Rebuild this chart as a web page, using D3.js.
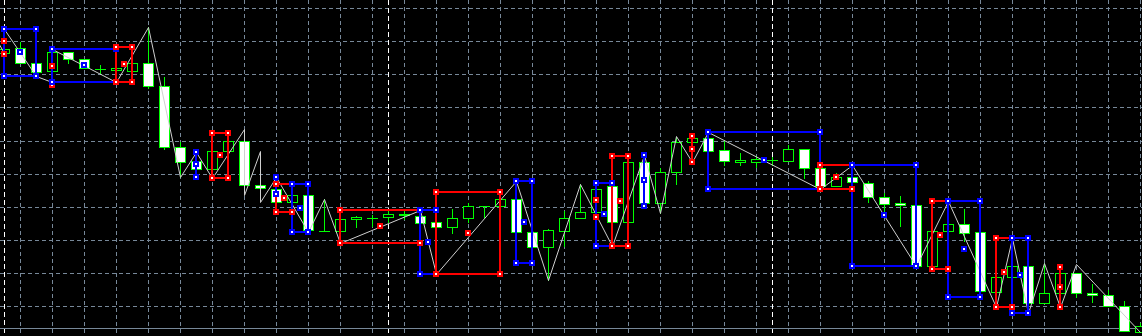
<!DOCTYPE html>
<html><head><meta charset="utf-8">
<script src="https://cdn.jsdelivr.net/npm/d3@7"></script>
<style>html,body{margin:0;padding:0;background:#000;overflow:hidden}</style>
</head><body><svg id="c" width="1142" height="336"></svg>
<script>
// ---- data (prices) ----
const opens = [1.2947,1.2952,1.2937,1.2929,1.2948,1.2941,1.2931,1.2930,1.2929,1.2937,
1.2914,1.2853,1.2839,1.2831,1.2849,1.2859,1.2815,1.2811,1.2798,1.2805,
1.2769,1.2769,1.2781,1.2782,1.2783,1.2785,1.2784,1.2778,1.2773,1.2782,
1.2794,1.2794,1.2801,1.2768,1.2753,1.2769,1.2782,1.2788,1.2814,1.2778,
1.2838,1.2797,1.2828,1.2858,1.2862,1.2850,1.2838,1.2838,1.2840,1.2839,
1.2851,1.2832,1.2814,1.2823,1.2817,1.2803,1.2797,1.2795,1.2734,1.2769,
1.2776,1.2768,1.2708,1.2723,1.2734,1.2697,1.2707,1.2727,1.2707,1.2705,
1.2694,1.2668];
const highs = [1.2953,1.2958,1.2937,1.2950,1.2948,1.2941,1.2935,1.2932,1.2937,1.2973,
1.2923,1.2858,1.2848,1.2849,1.2859,1.2859,1.2815,1.2811,1.2805,1.2805,
1.2801,1.2781,1.2784,1.2785,1.2789,1.2789,1.2784,1.2778,1.2791,1.2797,
1.2794,1.2801,1.2801,1.2768,1.2771,1.2789,1.2816,1.2811,1.2814,1.2838,
1.2845,1.2832,1.2863,1.2864,1.2868,1.2859,1.2847,1.2844,1.2843,1.2855,
1.2851,1.2835,1.2827,1.2835,1.2819,1.2807,1.2804,1.2795,1.2769,1.2776,
1.2791,1.2768,1.2723,1.2734,1.2734,1.2737,1.2727,1.2727,1.2716,1.2710,
1.2699,1.2677];
const lows = [1.2945,1.2937,1.2928,1.2929,1.2937,1.2932,1.2927,1.2930,1.2929,1.2912,
1.2851,1.2823,1.2830,1.2831,1.2849,1.2814,1.2812,1.2798,1.2798,1.2770,
1.2769,1.2769,1.2773,1.2774,1.2778,1.2781,1.2777,1.2773,1.2767,1.2778,
1.2783,1.2794,1.2768,1.2753,1.2720,1.2754,1.2782,1.2788,1.2778,1.2778,
1.2797,1.2787,1.2816,1.2838,1.2849,1.2835,1.2835,1.2833,1.2835,1.2839,
1.2822,1.2811,1.2814,1.2818,1.2798,1.2787,1.2774,1.2734,1.2731,1.2769,
1.2759,1.2709,1.2708,1.2723,1.2697,1.2697,1.2707,1.2703,1.2698,1.2694,
1.2669,1.2668];
const closes = [1.2951,1.2937,1.2928,1.2948,1.2941,1.2932,1.2931,1.2932,1.2937,1.2914,
1.2853,1.2838,1.2831,1.2849,1.2859,1.2815,1.2812,1.2798,1.2805,1.2770,
1.2769,1.2781,1.2783,1.2782,1.2786,1.2786,1.2777,1.2773,1.2782,1.2794,
1.2794,1.2801,1.2768,1.2753,1.2770,1.2782,1.2788,1.2811,1.2778,1.2838,
1.2797,1.2828,1.2858,1.2862,1.2849,1.2839,1.2840,1.2841,1.2840,1.2851,
1.2832,1.2814,1.2823,1.2818,1.2803,1.2796,1.2795,1.2734,1.2769,1.2776,
1.2767,1.2709,1.2723,1.2734,1.2697,1.2707,1.2727,1.2707,1.2705,1.2694,
1.2669,1.2674];

// zigzag (bar index, price)
const zzIdx = [-1,0,0,2,3,3,7,9,11,12,13,15,15,16,16,17,19,20,21,26,27,32,34,36,38,40,41,42,43,44,51,53,57,59,62,63,64,65,66,67,71];
const zzPrice = [1.2975,1.2947,1.2971,1.2924,1.2918,1.2951,1.2918,1.2973,1.2823,1.2848,
1.2822,1.2871,1.2805,1.2849,1.2798,1.2823,1.2768,1.2801,1.2757,1.2790,
1.2726,1.2819,1.2720,1.2816,1.2754,1.2845,1.2787,1.2864,1.2838,1.2868,
1.2811,1.2835,1.2734,1.2799,1.2693,1.2762,1.2687,1.2737,1.2693,1.2736,1.2668];

// boxes: [startBar, endBar, topPrice, bottomPrice]
const blueBoxes = [[0,2,1.2971,1.2924],[3,7,1.2951,1.2918],[12,12,1.2848,1.2823],[17,17,1.2823,1.2806],
[18,19,1.2816,1.2768],[26,27,1.2790,1.2726],[32,33,1.2819,1.2737],[37,38,1.2817,1.2754],
[40,40,1.2845,1.2794],[44,51,1.2868,1.2811],[53,57,1.2835,1.2734],[59,61,1.2799,1.2703],[63,64,1.2762,1.2687]];
const redBoxes = [[0,0,1.2959,1.2946],[7,8,1.2953,1.2918],[13,14,1.2867,1.2822],[17,18,1.2816,1.2788],
[21,26,1.2790,1.2757],[27,31,1.2808,1.2726],[38,39,1.2844,1.2754],[43,43,1.2864,1.2838],
[51,53,1.2835,1.2811],[58,59,1.2799,1.2731],[62,63,1.2762,1.2693],[66,66,1.2733,1.2693]];
const blueMarks = [[1,1.2948],[5,1.2935],[12,1.2836],[18.5,1.2792],[26.5,1.2758],[32.5,1.2778],[37.5,1.2786],
[40,1.2820],[47.5,1.2840],[55,1.2785],[60,1.2751],[63.5,1.2725]];
const redMarks = [[3,1.2934],[3,1.2915],[7.5,1.2936],[13.5,1.2845],[17.5,1.2802],[23.5,1.2774],[29,1.2767],
[37,1.2800],[37,1.2783],[38.5,1.2799],[43,1.2851],[52,1.2823],[58.5,1.2765],[62.5,1.2728],[66,1.2713]];

const gridPrices = [1.2992,1.2959,1.2926,1.2893,1.2859,1.2826,1.2793,1.2760,1.2727,1.2694];
const separatorBars = [0,24,48];
const bidPrice = 1.2672;

// ---- drawing ----
const W = 1142, H = 336;
const GREEN = '#00ff00', BLUE = '#0000ff', RED = '#ff0000', GRID = '#778899';
const svg = d3.select('#c');
const x = d3.scaleLinear().domain([0, 71]).range([4, 1140]);
const y = d3.scaleLinear().domain([1.3000, 1.2664]).range([0, 336]);
const px = i => Math.round(x(i));
const py = p => Math.round(y(p));

svg.append('rect').attr('width', W).attr('height', H).attr('fill', '#000');

const gridBars = d3.range(1, 72, 2);
const gg = svg.append('g');
gg.selectAll('line.h').data(gridPrices).join('line').attr('class','h')
  .attr('x1', 0).attr('x2', W).attr('y1', d => py(d) + 0.5).attr('y2', d => py(d) + 0.5)
  .attr('stroke', GRID).attr('stroke-dasharray', '4,3');
gg.selectAll('line.v').data(gridBars).join('line').attr('class','v')
  .attr('x1', d => px(d) + 0.5).attr('x2', d => px(d) + 0.5).attr('y1', 0).attr('y2', H)
  .attr('stroke', GRID).attr('stroke-dasharray', '4,3');
gg.selectAll('line.s').data(separatorBars).join('line').attr('class','s')
  .attr('x1', d => px(d) + 0.5).attr('x2', d => px(d) + 0.5).attr('y1', 0).attr('y2', H)
  .attr('stroke', '#ffffff').attr('stroke-dasharray', '5,3');
gg.append('line').attr('x1', 0).attr('x2', W).attr('y1', py(bidPrice) + 0.5).attr('y2', py(bidPrice) + 0.5)
  .attr('stroke', GRID);

// candles
const bars = opens.map((o, i) => ({ i, o, h: highs[i], l: lows[i], c: closes[i] }));
const cg = svg.append('g');
bars.forEach(b => {
  const xc = px(b.i), cx = xc + 0.5;
  cg.append('line').attr('x1', cx).attr('x2', cx).attr('y1', py(b.h)).attr('y2', py(b.l) + 1)
    .attr('stroke', GREEN);
  const yt = py(Math.max(b.o, b.c)), yb = py(Math.min(b.o, b.c));
  if (yt === yb) {
    cg.append('line').attr('x1', xc - 5).attr('x2', xc + 6).attr('y1', yt + 0.5).attr('y2', yt + 0.5)
      .attr('stroke', GREEN);
  } else {
    cg.append('rect').attr('x', xc - 4.5).attr('y', yt + 0.5).attr('width', 10).attr('height', yb - yt)
      .attr('fill', b.c < b.o ? '#ffffff' : '#000000').attr('stroke', GREEN);
  }
});

// zigzag
svg.append('path')
  .attr('d', d3.line().x(d => x(d[0]) + 0.5).y(d => y(d[1]) + 0.5)(zzIdx.map((d, i) => [d, zzPrice[i]])))
  .attr('fill', 'none').attr('stroke', '#d0d0d0').attr('stroke-width', 1);

// boxes
const boxes = redBoxes.map(b => ({ b, col: RED })).concat(blueBoxes.map(b => ({ b, col: BLUE })))
  .sort((a, c) => a.b[0] - c.b[0]);
const bg = svg.append('g');
boxes.forEach(({ b, col }) => {
  const x1 = px(b[0]), x2 = px(b[1]), y1 = py(b[2]), y2 = py(b[3]);
  const d = x1 === x2 ? `M${x1},${y1}V${y2}` : `M${x1},${y1}H${x2}V${y2}H${x1}Z`;
  bg.append('path').attr('d', d).attr('fill', 'none').attr('stroke', col).attr('stroke-width', 2);
});

function marker(g, i, p, col) {
  const cxm = px(i), cym = py(p);
  g.append('rect').attr('x', cxm - 3).attr('y', cym - 3).attr('width', 6).attr('height', 6).attr('fill', col);
  g.append('rect').attr('x', cxm - 1).attr('y', cym - 1).attr('width', 2).attr('height', 2).attr('fill', '#fff');
}
const mg = svg.append('g');
redMarks.forEach(m => marker(mg, m[0], m[1], RED));
blueMarks.forEach(m => marker(mg, m[0], m[1], BLUE));
boxes.forEach(({ b, col }) => {
  marker(mg, b[0], b[2], col); marker(mg, b[1], b[2], col);
  marker(mg, b[0], b[3], col); marker(mg, b[1], b[3], col);
});
</script></body></html>
